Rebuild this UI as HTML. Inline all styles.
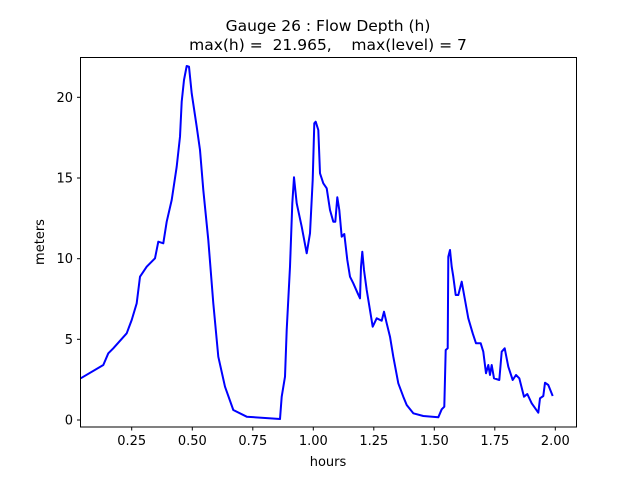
<!DOCTYPE html><html><head><style>body{margin:0;background:#fff}svg{display:block}text{font-family:"DejaVu Sans","Liberation Sans",sans-serif;fill:#000}</style></head><body>
<svg width="640" height="480" xmlns="http://www.w3.org/2000/svg">
<rect width="640" height="480" fill="#fff"/>
<text x="328" y="31" font-size="15.5" text-anchor="middle">Gauge 26 : Flow Depth (h)</text>
<text x="328" y="50" font-size="15.5" text-anchor="middle" xml:space="preserve">max(h) =  21.965,    max(level) = 7</text>
<polyline fill="none" stroke="#0000ff" stroke-width="2" stroke-linejoin="round" points="80.7,378.3 103.3,365 108.3,353.3 113.3,348.3 126.7,333.3 131.7,320 136.7,303.3 140,276.7 146.7,266.7 155,258.3 158.3,241.7 163.3,243.3 166.7,221.7 171.7,200 176.7,166.7 180,136.7 181.7,101.7 184,80 186.7,66 189,66.7 191.7,93.3 196.7,126.7 200,150 203.3,190 208.3,240 213.3,303.3 218.3,356.7 225,386.7 233.3,410 246.7,416.7 280,419 281.7,396.7 285,376.7 286.7,330 290,266.7 292.3,203.3 294,177.3 296.7,203.3 301.7,226.7 306.7,253.3 310,233.3 312.7,180 314.3,123.3 315.7,121.7 318.3,130 320,173.3 323.3,183.3 326.7,188.3 330,210 333.3,221.7 335.3,221.7 337.3,197.3 339.3,210 341.7,236.7 344.3,234 347.3,260 350,276.7 353.3,283.3 357.7,293.3 360,298.3 361,266.7 362.3,251.7 364,270 366.7,290 372.7,326.7 376.7,318.3 381.7,320.7 384,311.7 386.7,323.3 390,336.7 393.3,356.7 398.3,383.3 403.3,396.7 406.7,405 413.3,413.3 423.3,416 438.3,417.3 441.7,409.3 444.3,406.7 445.7,350 447.7,348.3 448.3,256.7 450,250 451.7,266.7 453.3,276.7 455.7,295 458.3,295 461.7,281.7 465,300 468.3,318.3 472.7,333.3 476,343.3 480.7,343.3 483.3,351.7 486,373.3 488.3,365 490,375 491.7,365 494,378.3 499.3,380 501.7,351.7 504.7,348.3 508.3,366.7 512.7,380 516,375 519.3,378.3 524,396.7 527.3,394 531.7,403.3 538.3,412.7 540,398.3 543.3,396 545,382.7 548.3,385 552.7,396"/>
<rect x="80.5" y="57.5" width="496" height="369.5" fill="none" stroke="#000" stroke-width="1"/>
<g stroke="#000" stroke-width="1">
<line x1="131.7" y1="427" x2="131.7" y2="430.5"/><line x1="192.3" y1="427" x2="192.3" y2="430.5"/><line x1="252.8" y1="427" x2="252.8" y2="430.5"/><line x1="313.3" y1="427" x2="313.3" y2="430.5"/><line x1="373.8" y1="427" x2="373.8" y2="430.5"/><line x1="434.3" y1="427" x2="434.3" y2="430.5"/><line x1="494.8" y1="427" x2="494.8" y2="430.5"/><line x1="555.3" y1="427" x2="555.3" y2="430.5"/>
<line x1="77" y1="420" x2="80.5" y2="420"/><line x1="77" y1="339.3" x2="80.5" y2="339.3"/><line x1="77" y1="258.7" x2="80.5" y2="258.7"/><line x1="77" y1="178" x2="80.5" y2="178"/><line x1="77" y1="97.3" x2="80.5" y2="97.3"/>
</g>
<g font-size="13" text-anchor="middle">
<text x="131.7" y="445">0.25</text><text x="192.3" y="445">0.50</text><text x="252.8" y="445">0.75</text><text x="313.3" y="445">1.00</text><text x="373.8" y="445">1.25</text><text x="434.3" y="445">1.50</text><text x="494.8" y="445">1.75</text><text x="555.3" y="445">2.00</text>
</g>
<g font-size="13" text-anchor="end">
<text x="73" y="424.5">0</text><text x="73" y="344">5</text><text x="73" y="263">10</text><text x="73" y="182.5">15</text><text x="73" y="102">20</text>
</g>
<text x="328" y="466" font-size="13" text-anchor="middle">hours</text>
<text x="44" y="242" font-size="13" text-anchor="middle" transform="rotate(-90 44 242)">meters</text>
</svg>
</body></html>
